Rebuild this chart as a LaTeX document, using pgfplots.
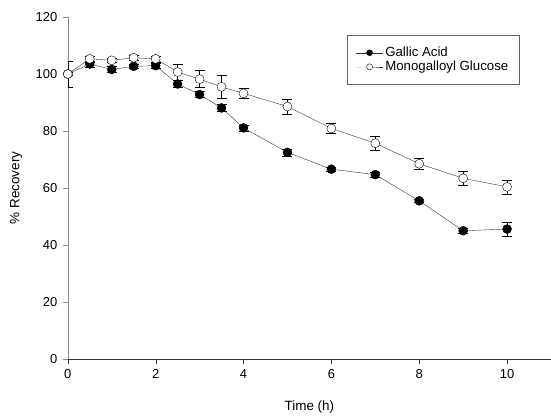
\documentclass[border=0pt]{standalone}
\usepackage{pgfplots}
\pgfplotsset{compat=1.18}
\usepackage{fontspec}
\setmainfont{Liberation Sans}
\begin{document}
\begin{tikzpicture}
\useasboundingbox (-67.8bp,-57bp) rectangle (483.2bp,359bp);
\begin{axis}[
  at={(0,0)}, anchor=south west,
  scale only axis,
  width=483.2bp, height=342bp,
  xmin=0, xmax=11, ymin=0, ymax=120,
  axis x line=bottom, axis y line=left,
  x axis line style={-, draw=black!80},
  y axis line style={-, draw=black!45},
  xtick={0,2,4,6,8,10}, ytick={0,20,40,60,80,100,120},
  tick align=outside, major tick length=5bp,
  xtick style={draw=black!80}, ytick style={draw=black!45},
  /pgf/number format/assume math mode=true,
  tick label style={font=\fontsize{13}{15}\selectfont},
  yticklabel style={xshift=-2bp},
  xticklabel style={yshift=-2bp},
  every axis x label/.style={at={(axis description cs:0.5,-0.14)}, anchor=center, font=\fontsize{13.5}{16}\selectfont},
  every axis y label/.style={at={(axis description cs:-0.107,0.5)}, rotate=90, anchor=center, font=\fontsize{13.5}{16}\selectfont},
  xlabel={Time (h)}, ylabel={\% Recovery},
  legend style={at={(axis description cs:0.5772,0.9474)}, anchor=north west,
    draw=black!60, font=\fontsize{13.3}{15}\selectfont, inner xsep=9bp, inner ysep=10bp,
    row sep=-1bp, cells={anchor=west}},
  legend image code/.code={\draw[mark repeat=2,mark phase=2,mark size=3bp] plot coordinates {(0bp,0bp) (13.5bp,0bp) (27bp,0bp)};},
]
\addplot+[black!80, thin, mark=*, mark size=4.5bp, mark options={fill=black, draw=black, solid},
  error bars/.cd, y dir=both, y explicit,
  error mark options={rotate=90, mark size=5bp, black}, error bar style={black, thin}]
  table[x=t, y=y, y error=e] {
t y e
0 100 0.5
0.5 103.5 1
1 101.6 1
1.5 102.7 0.8
2 102.9 0.8
2.5 96.5 1.3
3 92.8 1
3.5 88.1 1.2
4 81.1 1
5 72.5 1.2
6 66.6 0.8
7 64.7 0.8
8 55.5 0.6
9 45.0 0.8
10 45.6 2.5
};
\addlegendentry{Gallic Acid}
\addplot+[black!80, thin, mark=*, mark size=4.5bp, mark options={fill=white, draw=black, solid},
  error bars/.cd, y dir=both, y explicit,
  error mark options={rotate=90, mark size=5bp, black}, error bar style={black, thin}]
  table[x=t, y=y, y error=e] {
t y e
0 100 4.6
0.5 105.3 1
1 104.8 0.8
1.5 105.7 1
2 105.3 1
2.5 100.7 2.9
3 98.2 3.0
3.5 95.5 4.1
4 93.2 1.8
5 88.6 2.7
6 80.9 1.8
7 75.7 2.5
8 68.5 2.0
9 63.4 2.5
10 60.4 2.5
};
\addlegendentry{Monogalloyl Glucose}
\end{axis}
\end{tikzpicture}
\end{document}
